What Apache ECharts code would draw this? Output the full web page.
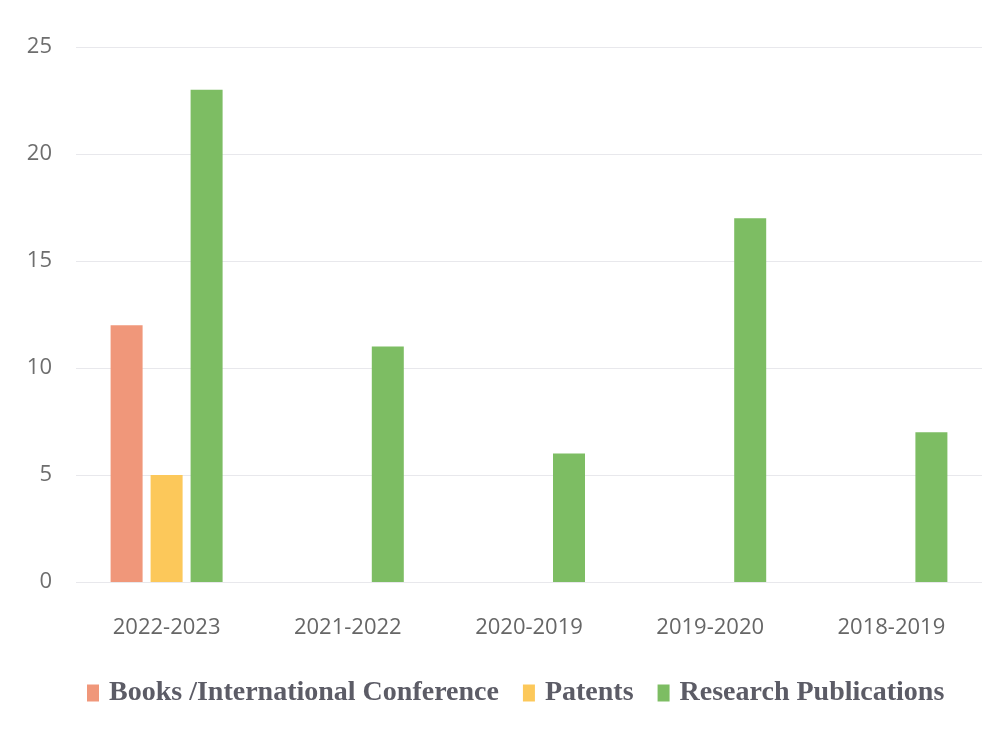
<!DOCTYPE html>
<html>
<head>
<meta charset="utf-8">
<style>
  html, body { margin: 0; padding: 0; background: #ffffff; }
  #chart { width: 1003px; height: 733px; }
</style>
<script src="https://cdn.jsdelivr.net/npm/echarts@6/dist/echarts.min.js"></script>
</head>
<body>
<div id="chart"></div>
<script>
// Academic output per year
const categories = ['2022-2023', '2021-2022', '2020-2019', '2019-2020', '2018-2019'];
const books = [12, 0, 0, 0, 0];
const patents = [5, 0, 0, 0, 0];
const research = [23, 11, 6, 17, 7];
const yTicks = [0, 5, 10, 15, 20, 25];

const colors = ['#f0977a', '#fcc85a', '#7dbd63'];

const chart = echarts.init(document.getElementById('chart'));

function barSeries(name, data, color) {
  return {
    name: name,
    type: 'bar',
    data: data,
    barWidth: 32,
    barGap: '25%',
    itemStyle: { color: color },
    emphasis: { disabled: true }
  };
}

chart.setOption({
  animation: false,
  grid: { left: 76, right: 21, top: 47, bottom: 151, containLabel: false },
  legend: {
    bottom: 21,
    left: 82,
    itemWidth: 12,
    itemHeight: 17,
    itemGap: 24,
    icon: 'rect',
    textStyle: {
      fontFamily: 'Liberation Serif',
      fontWeight: 'bold',
      fontSize: 28,
      color: '#5c5c66',
      padding: [0, 0, 0, 5]
    },
    data: ['Books /International Conference', 'Patents', 'Research Publications']
  },
  xAxis: {
    type: 'category',
    data: categories,
    axisLine: { show: false },
    axisTick: { show: false },
    axisLabel: {
      margin: 35,
      fontFamily: 'Open Sans',
      fontSize: 22,
      color: '#666666'
    }
  },
  yAxis: {
    type: 'value',
    min: yTicks[0],
    max: yTicks[yTicks.length - 1],
    interval: 5,
    axisLine: { show: false },
    axisTick: { show: false },
    axisLabel: {
      margin: 24,
      fontFamily: 'Open Sans',
      fontSize: 22,
      color: '#6e6e6e'
    },
    splitLine: { lineStyle: { color: '#e8e8ec', width: 1 } }
  },
  series: [
    barSeries('Books /International Conference', books, colors[0]),
    barSeries('Patents', patents, colors[1]),
    barSeries('Research Publications', research, colors[2])
  ]
});
</script>
</body>
</html>
